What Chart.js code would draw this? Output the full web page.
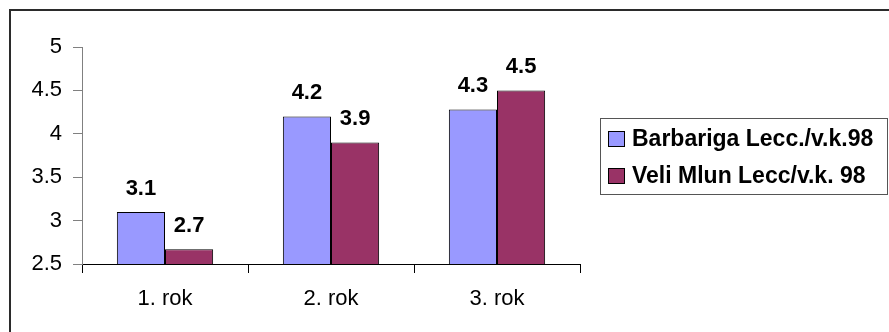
<!DOCTYPE html>
<html>
<head>
<meta charset="utf-8">
<script src="https://cdn.jsdelivr.net/npm/chart.js@4/dist/chart.umd.min.js"></script>
<style>
  html, body { margin: 0; padding: 0; background: #fff; }
  canvas { display: block; }
</style>
</head>
<body>
<canvas id="myChart" width="889" height="332"></canvas>
<script>
const categories = ["1. rok", "2. rok", "3. rok"]
const seriesNames = ["Barbariga Lecc./v.k.98", "Veli Mlun Lecc/v.k. 98"]
const barbariga = [3.1, 4.2, 4.28]
const veliMlun = [2.67, 3.9, 4.5]
const yTicks = [2.5, 3, 3.5, 4, 4.5, 5]

const colors = ["#9999ff", "#993366"]
const fontFamily = "Arial, 'Liberation Sans', sans-serif"

// white page + the frame round the chart
const framePlugin = {
    id: 'frame',
    beforeDraw(chart) {
        const ctx = chart.ctx
        ctx.save()
        ctx.fillStyle = '#fff'
        ctx.fillRect(0, 0, chart.width, chart.height)
        ctx.strokeStyle = '#2b2b2b'
        ctx.lineWidth = 2
        ctx.strokeRect(10, 10, chart.width + 20, chart.height + 20)
        ctx.restore()
    }
}

// value labels above every bar
const valueLabels = {
    id: 'valueLabels',
    afterDatasetsDraw(chart) {
        const ctx = chart.ctx
        ctx.save()
        ctx.font = "bold 22px " + fontFamily
        ctx.fillStyle = '#000'
        ctx.textAlign = 'center'
        ctx.textBaseline = 'alphabetic'
        chart.data.datasets.forEach((ds, di) => {
            chart.getDatasetMeta(di).data.forEach((bar, i) => {
                ctx.fillText(ds.data[i].toFixed(1), bar.x, bar.y - 17)
            })
        })
        ctx.restore()
    }
}

// legend box on the right
const boxLegend = {
    id: 'boxLegend',
    afterDraw(chart) {
        const ctx = chart.ctx
        const left = 600, top = 118, w = 287, h = 76
        ctx.save()
        ctx.strokeStyle = '#555'
        ctx.lineWidth = 1
        ctx.strokeRect(left + 0.5, top + 0.5, w, h)
        ctx.font = "bold 23px " + fontFamily
        ctx.textBaseline = 'middle'
        ctx.textAlign = 'left'
        chart.data.datasets.forEach((ds, i) => {
            const cy = top + 21 + i * 37
            ctx.fillStyle = ds.backgroundColor
            ctx.fillRect(608, cy - 8, 17, 16)
            ctx.strokeStyle = '#000'
            ctx.strokeRect(608.5, cy - 7.5, 16, 15)
            ctx.fillStyle = '#000'
            ctx.fillText(ds.label, 632, cy + 1)
        })
        ctx.restore()
    }
}

new Chart("myChart", {
    type: "bar",
    data: {
        labels: categories,
        datasets: [
            { label: seriesNames[0], data: barbariga, backgroundColor: colors[0], borderColor: '#000', borderWidth: 1 },
            { label: seriesNames[1], data: veliMlun, backgroundColor: colors[1], borderColor: '#000', borderWidth: 1 }
        ]
    },
    plugins: [framePlugin, valueLabels, boxLegend],
    options: {
        responsive: false,
        animation: false,
        devicePixelRatio: 1,
        layout: { padding: { left: 0, top: 47, right: 309, bottom: 0 } },
        datasets: {
            bar: { categoryPercentage: 0.58, barPercentage: 1.0 }
        },
        plugins: {
            legend: { display: false },
            tooltip: { enabled: false }
        },
        scales: {
            x: {
                grid: { offset: true, drawOnChartArea: false, tickLength: 9, color: '#000' },
                border: { color: '#000' },
                ticks: { color: '#000', padding: 13, font: { family: fontFamily, size: 22 } },
                afterFit: scale => { scale.height = 68 }
            },
            y: {
                min: 2.5,
                max: 5,
                afterBuildTicks: scale => { scale.ticks = yTicks.map(v => ({ value: v })) },
                grid: { drawOnChartArea: false, tickLength: 9, color: '#808080' },
                border: { color: '#808080' },
                ticks: {
                    color: '#000',
                    padding: 11,
                    font: { family: fontFamily, size: 22 },
                    callback: v => String(v)
                },
                afterFit: scale => { scale.width = 82 }
            }
        }
    }
})
</script>
</body>
</html>
